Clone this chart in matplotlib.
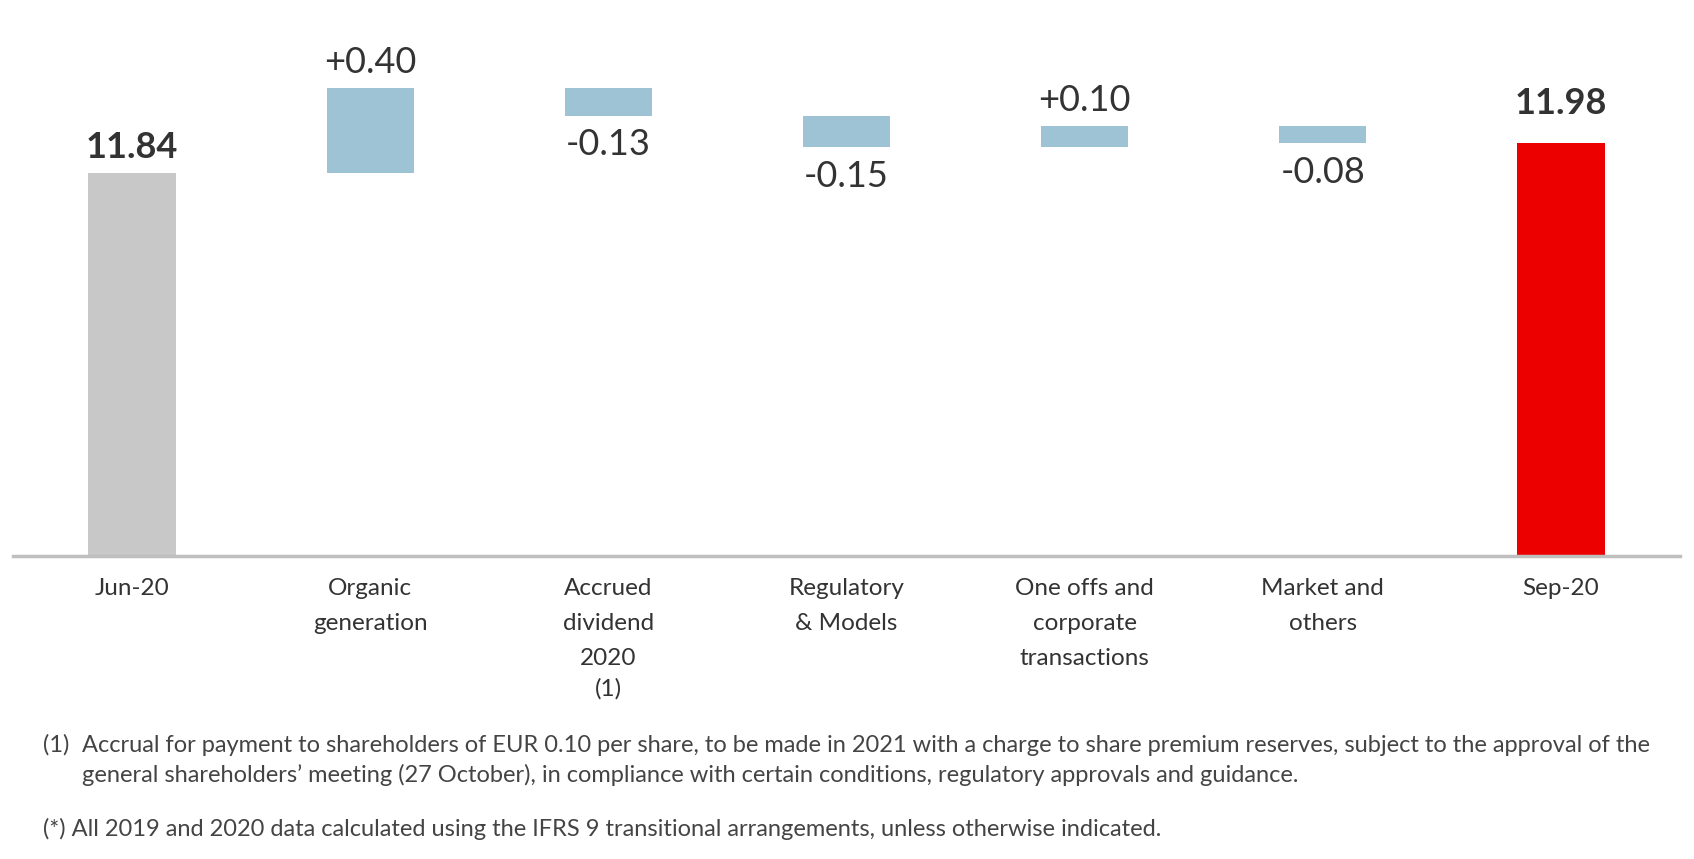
import matplotlib
matplotlib.use("Agg")
import matplotlib.pyplot as plt
from matplotlib import font_manager

names = {f.name for f in font_manager.fontManager.ttflist}
FONT = "Liberation Sans Narrow" if "Liberation Sans Narrow" in names else "Lato"
plt.rcParams['font.family'] = [FONT, 'DejaVu Sans']

categories = ["Jun-20", "Organic\ngeneration", "Accrued\ndividend\n2020", "Regulatory\n& Models",
              "One offs and\ncorporate\ntransactions", "Market and\nothers", "Sep-20"]
start_value = 11.84
deltas = [0.40, -0.13, -0.15, 0.10, -0.08]
end_value = 11.98

footnote1 = ("(1)", "Accrual for payment to shareholders of EUR 0.10 per share, to be made in 2021 with a charge to share premium reserves, subject to the approval of the",
             "general shareholders\u2019 meeting (27 October), in compliance with certain conditions, regulatory approvals and guidance.")
footnote2 = "(*) All 2019 and 2020 data calculated using the IFRS 9 transitional arrangements, unless otherwise indicated."

W, H = 1694, 859
fig = plt.figure(figsize=(W / 100, H / 100), dpi=100)
base = 10.02
ax_left, ax_right = 13, 1680
ax_bottom_px, ax_top_px = 556, 0
ax = fig.add_axes([ax_left / W, 1 - ax_bottom_px / H, (ax_right - ax_left) / W, (ax_bottom_px - ax_top_px) / H])
ppu = 210.7
ax.set_xlim(-0.5, 6.5)
ax.set_ylim(base, base + (ax_bottom_px - ax_top_px) / ppu)

bw = 0.366
grey, blue, red = "#C8C8C8", "#9DC3D4", "#EC0000"
txt = "#333333"

# totals
ax.bar(0, start_value - base, bottom=base, width=bw, color=grey)
ax.text(0, start_value + 0.04, f"{start_value:.2f}", ha="center", va="bottom", fontsize=26, fontweight="bold", color=txt)
ax.bar(6, end_value - base, bottom=base, width=bw, color=red)
ax.text(6, end_value + 0.11, f"{end_value:.2f}", ha="center", va="bottom", fontsize=26, fontweight="bold", color=txt)

level = start_value
for i, d in enumerate(deltas, start=1):
    lo, hi = min(level, level + d), max(level, level + d)
    ax.bar(i, hi - lo, bottom=lo, width=bw, color=blue)
    if d >= 0:
        ax.text(i, hi + 0.045, f"+{d:.2f}", ha="center", va="bottom", fontsize=26, color=txt)
    else:
        ax.text(i, lo - 0.06, f"{d:.2f}", ha="center", va="top", fontsize=26, color=txt)
    level += d

for s in ["top", "right", "left"]:
    ax.spines[s].set_visible(False)
ax.spines["bottom"].set_color("#BFBFBF")
ax.spines["bottom"].set_linewidth(2.5)
ax.set_yticks([])
ax.set_xticks([])

for i, c in enumerate(categories):
    fig.text((ax_left + (i + 0.5) * (ax_right - ax_left) / 7) / W, 1 - 578 / H, c,
             ha="center", va="top", fontsize=17.5, color=txt, linespacing=1.82)
fig.text((ax_left + 2.5 * (ax_right - ax_left) / 7) / W, 1 - 678 / H, "(1)",
         ha="center", va="top", fontsize=17.5, color=txt)

fs = 17
fig.text(43 / W, 1 - 745 / H, footnote1[0], ha="left", va="center", fontsize=fs, color="#444444")
fig.text(82 / W, 1 - 745 / H, footnote1[1], ha="left", va="center", fontsize=fs, color="#444444")
fig.text(82 / W, 1 - 775 / H, footnote1[2], ha="left", va="center", fontsize=fs, color="#444444")
fig.text(43 / W, 1 - 829 / H, footnote2, ha="left", va="center", fontsize=fs, color="#444444")

fig.savefig("out.png", dpi=100)
